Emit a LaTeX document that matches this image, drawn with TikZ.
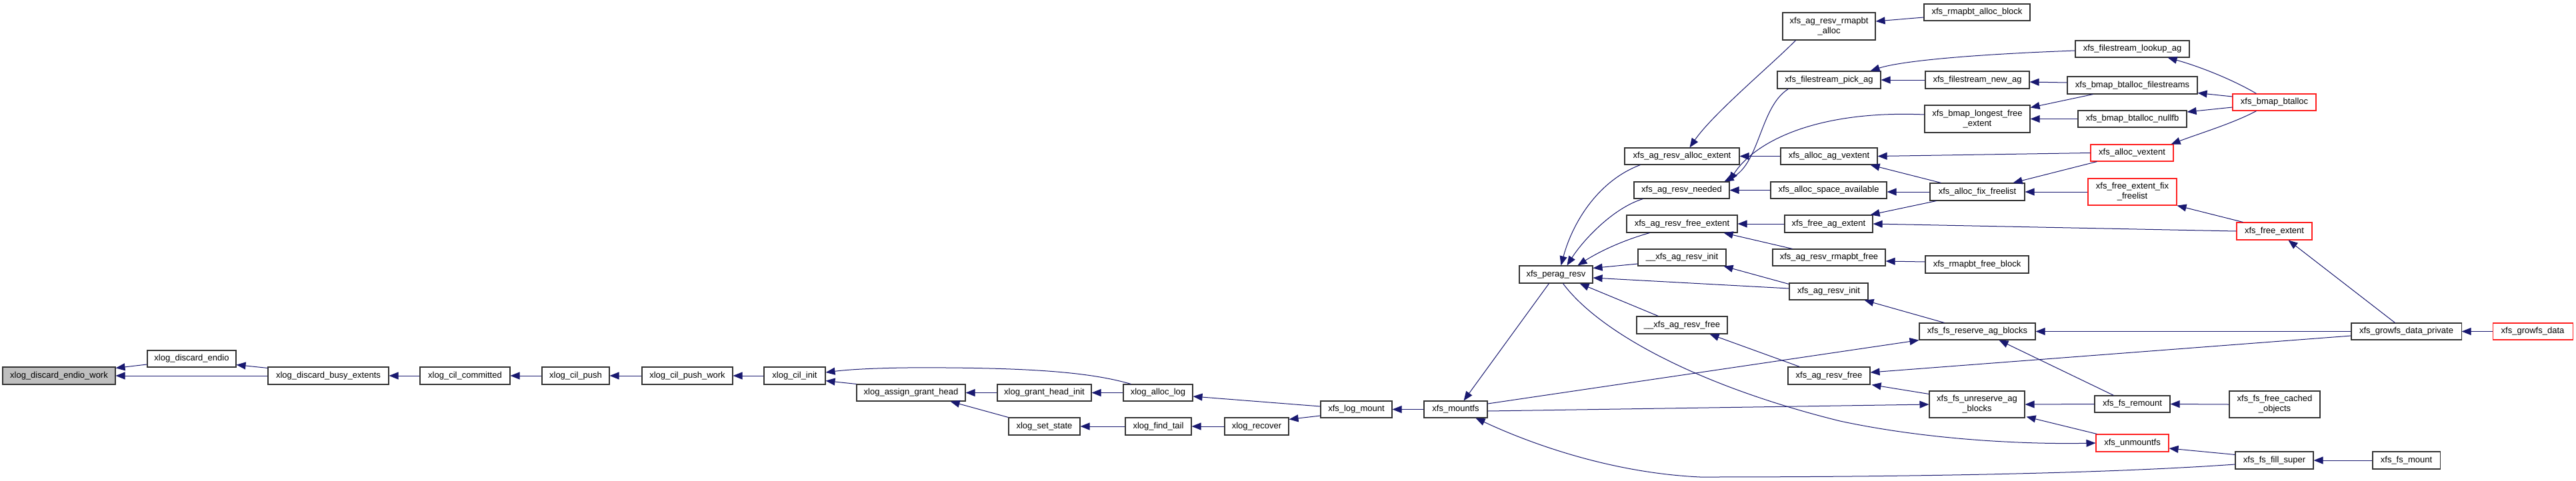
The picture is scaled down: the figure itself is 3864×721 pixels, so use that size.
\documentclass[tikz,border=0pt]{standalone}
\usepackage{fontspec}
\setmainfont{Liberation Sans}
\usetikzlibrary{arrows.meta,calc}
\definecolor{edgec}{HTML}{191970}
\definecolor{bordc}{HTML}{333333}
\definecolor{redc}{HTML}{FF2020}
\definecolor{rootc}{HTML}{BFBFBF}
\tikzset{
  box/.style={draw=bordc,line width=1.1pt,fill=white,inner sep=0pt,align=center,
    font=\fontsize{13}{15}\selectfont},
  redbox/.style={draw=redc},
  rootbox/.style={fill=rootc},
  conn/.style={draw=edgec,line width=1pt,-{Triangle[length=14pt,width=11pt]}}
}
\newcommand\nd[7][]{\node[box,#1,minimum width={(#5-#3)*1pt},minimum height={(#6-#4)*1pt}] (#2) at ({(#3+#5)/2},{(#4+#6)/2}) {#7};}
\begin{document}
\begin{tikzpicture}[x=1pt,y=-1pt]
\fill[white] (0,0) rectangle (3864,721);
\useasboundingbox (0,0) rectangle (3864,721);
% nodes
\nd[rootbox]{dew}{4}{551}{173}{577}{xlog\_discard\_endio\_work}
\nd{de}{221}{526}{354}{551}{xlog\_discard\_endio}
\nd{dbe}{402}{551}{583}{577}{xlog\_discard\_busy\_extents}
\nd{cc}{630}{551}{765}{577}{xlog\_cil\_committed}
\nd{cp}{813}{551}{914}{577}{xlog\_cil\_push}
\nd{cpw}{963}{551}{1099}{577}{xlog\_cil\_push\_work}
\nd{ci}{1146}{551}{1238}{577}{xlog\_cil\_init}
\nd{agh}{1285}{577}{1448}{602}{xlog\_assign\_grant\_head}
\nd{ghi}{1496}{577}{1637}{602}{xlog\_grant\_head\_init}
\nd{al}{1685}{577}{1789}{602}{xlog\_alloc\_log}
\nd{ss}{1513}{627}{1620}{653}{xlog\_set\_state}
\nd{ft}{1688}{627}{1787}{653}{xlog\_find\_tail}
\nd{rec}{1837}{627}{1933}{653}{xlog\_recover}
\nd{lm}{1981}{602}{2088}{627}{xfs\_log\_mount}
\nd{mfs}{2136}{602}{2231}{627}{xfs\_mountfs}
\nd{pr}{2279}{399}{2389}{425}{xfs\_perag\_resv}
\nd{uari}{2457}{374}{2589}{399}{\_\_xfs\_ag\_resv\_init}
\nd{uarf}{2455}{475}{2591}{501}{\_\_xfs\_ag\_resv\_free}
\nd{arae}{2437}{222}{2609}{247}{xfs\_ag\_resv\_alloc\_extent}
\nd{arn}{2451}{273}{2594}{298}{xfs\_ag\_resv\_needed}
\nd{arfe}{2440}{323}{2606}{349}{xfs\_ag\_resv\_free\_extent}
\nd{arra}{2674}{19}{2813}{60}{xfs\_ag\_resv\_rmapbt\\\_alloc}
\nd{fpa}{2666}{107}{2821}{133}{xfs\_filestream\_pick\_ag}
\nd{aav}{2671}{222}{2816}{247}{xfs\_alloc\_ag\_vextent}
\nd{asa}{2656}{273}{2830}{298}{xfs\_alloc\_space\_available}
\nd{fae}{2677}{323}{2809}{349}{xfs\_free\_ag\_extent}
\nd{arrf}{2659}{374}{2828}{399}{xfs\_ag\_resv\_rmapbt\_free}
\nd{ari}{2684}{425}{2802}{450}{xfs\_ag\_resv\_init}
\nd{arf}{2682}{551}{2805}{577}{xfs\_ag\_resv\_free}
\nd{rab}{2886}{6}{3045}{31}{xfs\_rmapbt\_alloc\_block}
\nd{fla}{3113}{61}{3284}{86}{xfs\_filestream\_lookup\_ag}
\nd{fna}{2888}{107}{3044}{133}{xfs\_filestream\_new\_ag}
\nd{bbf}{3101}{115}{3296}{141}{xfs\_bmap\_btalloc\_filestreams}
\nd{blfe}{2887}{158}{3045}{199}{xfs\_bmap\_longest\_free\\\_extent}
\nd{bbn}{3117}{166}{3280}{191}{xfs\_bmap\_btalloc\_nullfb}
\nd[redbox]{av}{3136}{217}{3260}{242}{xfs\_alloc\_vextent}
\nd{aff}{2895}{275}{3037}{301}{xfs\_alloc\_fix\_freelist}
\nd[redbox]{feff}{3132}{268}{3265}{308}{xfs\_free\_extent\_fix\\\_freelist}
\nd{rfb}{2888}{384}{3043}{410}{xfs\_rmapbt\_free\_block}
\nd{fsrab}{2879}{485}{3053}{510}{xfs\_fs\_reserve\_ag\_blocks}
\nd{fsuab}{2894}{587}{3037}{627}{xfs\_fs\_unreserve\_ag\\\_blocks}
\nd{fsr}{3142}{594}{3255}{619}{xfs\_fs\_remount}
\nd[redbox]{um}{3144}{652}{3253}{678}{xfs\_unmountfs}
\nd[redbox]{bb}{3349}{141}{3474}{166}{xfs\_bmap\_btalloc}
\nd[redbox]{fe}{3355}{334}{3468}{360}{xfs\_free\_extent}
\nd{gdp}{3527}{485}{3692}{510}{xfs\_growfs\_data\_private}
\nd[redbox]{gd}{3739}{485}{3859}{510}{xfs\_growfs\_data}
\nd{ffco}{3344}{587}{3480}{627}{xfs\_fs\_free\_cached\\\_objects}
\nd{ffs}{3353}{678}{3470}{704}{xfs\_fs\_fill\_super}
\nd{fm}{3559}{678}{3660}{704}{xfs\_fs\_mount}
% edges
\draw[conn] ($(de.west)+(0,8.5)$) -- ($(dew.north east)+(0,2)$);
\draw[conn] (dbe.west) -- (dew.east);
\draw[conn] ($(dbe.north west)+(0,2)$) -- ($(de.south east)+(0,-4)$);
\draw[conn] (cc.west) -- (dbe.east);
\draw[conn] (cp.west) -- (cc.east);
\draw[conn] (cpw.west) -- (cp.east);
\draw[conn] (ci.west) -- (cpw.east);
\draw[conn] ($(al.north west)+(12,0)$) .. controls (1640,560) and (1560,553) .. (1420,552) .. controls (1320,551) and (1270,555) .. ($(ci.east)+(0,-5)$);
\draw[conn] (agh.north west) -- ($(ci.south east)+(0,-6)$);
\draw[conn] (ghi.west) -- (agh.east);
\draw[conn] (al.west) -- (ghi.east);
\draw[conn] (ss.north west) -- ($(agh.south east)+(-23,0)$);
\draw[conn] (ft.west) -- (ss.east);
\draw[conn] (rec.west) -- (ft.east);
\draw[conn] ($(lm.west)+(0,-4.5)$) -- ($(al.east)+(0,5.5)$);
\draw[conn] ($(lm.west)+(0,9.5)$) -- ($(rec.north east)+(0,3)$);
\draw[conn] (mfs.west) -- (lm.east);
\draw[conn] ($(pr.south west)+(45,0)$) -- ($(mfs.north east)+(-36,0)$);
\draw[conn] ($(uari.west)+(0,9.5)$) -- ($(pr.north east)+(0,4)$);
\draw[conn] ($(ari.west)+(0,-4.5)$) -- ($(pr.east)+(0,5)$);
\draw[conn] ($(uarf.north west)+(33,0)$) -- ($(pr.south east)+(-20,0)$);
\draw[conn] ($(ari.north west)+(0,2)$) -- ($(uari.south east)+(-4,0)$);
\draw[conn] ($(arf.north west)+(18,0)$) -- ($(uarf.south east)+(-27,0)$);
\draw[conn] ($(arae.south west)+(24,0)$) .. controls (2400,270) and (2360,330) .. ($(pr.north west)+(63,0)$);
\draw[conn] ($(arn.south west)+(14,0)$) .. controls (2420,312) and (2375,360) .. ($(pr.north west)+(72,0)$);
\draw[conn] ($(arfe.south west)+(35,0)$) .. controls (2430,362) and (2395,380) .. ($(pr.north west)+(88,0)$);
\draw[conn] ($(arra.south west)+(20,0)$) .. controls (2660,95) and (2570,170) .. ($(arae.north west)+(98,0)$);
\draw[conn] (aav.west) -- (arae.east);
\draw[conn] ($(fpa.south west)+(17,0)$) .. controls (2640,160) and (2640,245) .. ($(arn.north east)+(-8,0)$);
\draw[conn] ($(blfe.west)+(0,-6.5)$) .. controls (2720,165) and (2630,215) .. ($(arn.north east)+(-1,0)$);
\draw[conn] (asa.west) -- (arn.east);
\draw[conn] (fae.west) -- (arfe.east);
\draw[conn] ($(arrf.north west)+(30,0)$) -- ($(arfe.south east)+(-21,0)$);
\draw[conn] ($(rab.west)+(0,7.5)$) -- ($(arra.east)+(0,-7.5)$);
\draw[conn] ($(fla.west)+(0,2.5)$) .. controls (2950,82) and (2850,92) .. ($(fpa.north east)+(-16,0)$);
\draw[conn] (fna.west) -- (fpa.east);
\draw[conn] ($(bbf.west)+(0,-4)$) -- ($(fna.east)+(0,3)$);
\draw[conn] ($(bbf.south west)+(39,0)$) -- ($(blfe.north east)+(0,4)$);
\draw[conn] (bbn.west) -- (blfe.east);
\draw[conn] ($(bb.north west)+(36,0)$) .. controls (3350,120) and (3300,100) .. ($(fla.south east)+(-33,0)$);
\draw[conn] ($(bb.west)+(0,-8.5)$) -- ($(bbf.south east)+(0,-2)$);
\draw[conn] ($(bb.west)+(0,7.5)$) -- ($(bbn.east)+(0,-10.5)$);
\draw[conn] ($(bb.south west)+(36,0)$) .. controls (3350,185) and (3300,200) .. ($(av.north east)+(-4,0)$);
\draw[conn] (av.west) -- (aav.east);
\draw[conn] ($(aff.north west)+(17,0)$) -- ($(aav.south east)+(-11,0)$);
\draw[conn] ($(av.south west)+(10,0)$) -- ($(aff.north east)+(-18,0)$);
\draw[conn] (aff.west) -- (aff.west -| asa.east);
\draw[conn] (feff.west) -- (aff.east);
\draw[conn] ($(aff.south west)+(10,0)$) -- ($(fae.north east)+(-4,0)$);
\draw[conn] ($(fe.north west)+(10,0)$) -- (feff.south east);
\draw[conn] (fe.west) -- (fae.east);
\draw[conn] ($(gdp.north west)+(66,0)$) -- ($(fe.south west)+(78,0)$);
\draw[conn] (gd.west) -- (gdp.east);
\draw[conn] (gdp.west) -- (fsrab.east);
\draw[conn] ($(gdp.west)+(0,6.5)$) -- ($(arf.east)+(0,-5)$);
\draw[conn] ($(rfb.west)+(0,-4)$) -- ($(arrf.east)+(0,5.5)$);
\draw[conn] ($(fsrab.north west)+(38,0)$) -- ($(ari.south east)+(-6,0)$);
\draw[conn] ($(mfs.east)+(0,-8.5)$) -- (fsrab.south west);
\draw[conn] ($(fsr.north west)+(29,0)$) -- ($(fsrab.south west)+(120,0)$);
\draw[conn] ($(mfs.east)+(0,2.5)$) -- (fsuab.west);
\draw[conn] (fsr.west) -- (fsuab.east);
\draw[conn] ($(um.north west)+(2,0)$) -- ($(fsuab.south east)+(2,-2)$);
\draw[conn] ($(fsuab.north west)+(0,5)$) -- ($(arf.south east)+(2,0)$);
\draw[conn] (ffco.west) -- (fsr.east);
\draw[conn] ($(pr.south west)+(66,0)$) .. controls (2400,500) and (2550,580) .. (2760,632) .. controls (2900,662) and (3050,667) .. (um.west);
\draw[conn] ($(ffs.north west)+(0,5)$) -- ($(um.east)+(0,8)$);
\draw[conn] ($(ffs.west)+(0,6)$) .. controls (3100,715) and (2700,716) .. (2550,716) .. controls (2420,710) and (2300,668) .. ($(mfs.south east)+(-18,0)$);
\draw[conn] (fm.west) -- (ffs.east);
\end{tikzpicture}
\end{document}
